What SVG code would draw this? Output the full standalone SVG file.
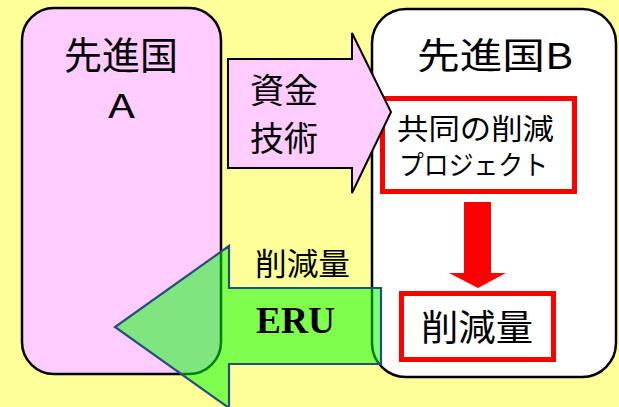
<svg xmlns="http://www.w3.org/2000/svg" width="619" height="407" viewBox="0 0 619 407">
  <style>
    .jp { font-family: "Noto Sans CJK JP", "Noto Sans", sans-serif; fill: #000; }
    .country { fill: #FFCCFF; stroke: #000; stroke-width: 2.5; }
    .countryB { fill: #FFFFFF; stroke: #000; stroke-width: 2.5; }
    .redbox { fill: #FFFFFF; stroke: #FF0000; stroke-width: 5; }
  </style>
  <rect x="0" y="0" width="619" height="407" fill="#FFFF99"/>

  <g id="nodeA">
    <rect class="country" x="22" y="8" width="199" height="366" rx="32" ry="32"/>
    <text class="jp" x="121" y="69" font-size="38" text-anchor="middle">先進国</text>
    <text class="jp" x="108" y="118" font-size="32" textLength="27" lengthAdjust="spacingAndGlyphs">A</text>
  </g>

  <g id="nodeB">
    <rect class="countryB" x="372" y="9" width="244" height="368" rx="34" ry="34"/>
    <text class="jp" x="417" y="69" font-size="36" textLength="156" lengthAdjust="spacingAndGlyphs">先進国B</text>
  </g>

  <g id="project">
    <rect class="redbox" x="382.5" y="98.5" width="192" height="93"/>
    <text class="jp" x="397" y="140" font-size="29" textLength="157" lengthAdjust="spacingAndGlyphs">共同の削減</text>
    <text class="jp" x="399" y="175" font-size="27" textLength="149" lengthAdjust="spacingAndGlyphs">プロジェクト</text>
  </g>

  <g id="reduction">
    <rect class="redbox" x="401.5" y="293.5" width="152" height="66"/>
    <text class="jp" x="421" y="341" font-size="36" textLength="112" lengthAdjust="spacingAndGlyphs">削減量</text>
  </g>

  <g id="connectors">
    <g id="funds-arrow">
      <polygon points="228,59 352,59 352,33 391,112 352,193 352,168 228,168" fill="#FFCCFF" stroke="#000" stroke-width="2"/>
      <text class="jp" x="250" y="103" font-size="34">資金</text>
      <text class="jp" x="250" y="151" font-size="34">技術</text>
    </g>
    <g id="down-arrow">
      <polygon points="464,202 491,202 491,273 506,273 478,288 449,273 464,273" fill="#FF0000"/>
    </g>
    <g id="eru-arrow">
      <polygon points="381,288 229,288 229,246 115,327 229,408 229,364 381,364" fill="#00FF00" fill-opacity="0.5" stroke="#2A4C85" stroke-width="2.2"/>
      <text class="jp" x="255" y="275" font-size="31" textLength="95" lengthAdjust="spacingAndGlyphs">削減量</text>
      <text x="256" y="333" font-family="Liberation Serif, serif" font-weight="bold" font-size="37" textLength="79" lengthAdjust="spacingAndGlyphs">ERU</text>
    </g>
  </g>
</svg>
